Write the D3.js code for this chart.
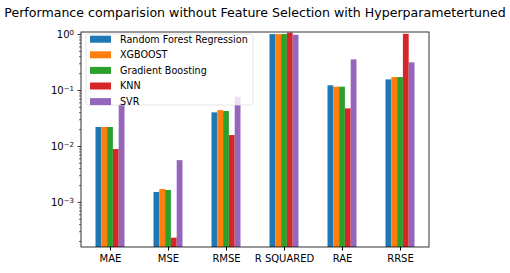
<!DOCTYPE html>
<html>
<head>
<meta charset="utf-8">
<script src="https://cdn.jsdelivr.net/npm/d3@7"></script>
<style>
  body { margin: 0; background: #fff; }
  text { font-family: "DejaVu Sans", sans-serif; fill: #000; }
</style>
</head>
<body>
<div id="chart"></div>
<script>
      var title = "Performance comparision without Feature Selection with Hyperparametertuned";

      var metrics = ["MAE", "MSE", "RMSE", "R SQUARED", "RAE", "RRSE"];
      var models = ["Random Forest Regression", "XGBOOST", "Gradient Boosting", "KNN", "SVR"];
      var colors = ["#1f77b4", "#ff7f0e", "#2ca02c", "#d62728", "#9467bd"];

      // one array per model, same order as metrics
      var rfValues  = [0.0223, 0.00154, 0.0407, 1.02, 0.124, 0.158];
      var xgbValues = [0.0223, 0.00174, 0.0447, 1.02, 0.117, 0.174];
      var gbValues  = [0.0223, 0.00167, 0.0430, 1.02, 0.117, 0.174];
      var knnValues = [0.0090, 0.000235, 0.0160, 1.08, 0.048, 1.03];
      var svrValues = [0.0567, 0.0057, 0.0775, 0.99, 0.36, 0.319];

      var yTicks = [-3, -2, -1, 0];

      var series = [rfValues, xgbValues, gbValues, knnValues, svrValues];

      var W = 510, H = 273;
      var margin = {top: 32, right: 81, bottom: 26, left: 81};
      var width = W - margin.left - margin.right,
          height = H - margin.top - margin.bottom;

      var svg = d3.select("#chart").append("svg")
                .attr("width", W)
                .attr("height", H);

      svg.append("text")
          .attr("x", margin.left + width / 2)
          .attr("y", 17)
          .attr("text-anchor", "middle")
          .style("font-size", "12.6px")
          .text(title);

      var canvas = svg.append("g")
                .attr("transform", "translate(" + margin.left + "," + margin.top + ")");

      ////// Define Scales /////////////////
      var xScale = d3.scaleLinear()
          .domain([-0.5, metrics.length - 0.5])
          .range([0, width]);
      var yScale = d3.scaleLog()
          .domain([1.6e-4, 1.11])
          .range([height, 0]);

      var barW = 0.1;

      // bars
      series.forEach(function(vals, i) {
          canvas.append("g")
              .selectAll("rect")
              .data(vals)
              .enter()
              .append("rect")
              .attr("x", function(d, j) { return xScale(j + (i - 2) * barW - barW / 2); })
              .attr("width", xScale(barW) - xScale(0))
              .attr("y", function(d) { return yScale(d); })
              .attr("height", function(d) { return height - yScale(d); })
              .attr("fill", colors[i]);
      });

      /////// Axes //////////////////////////////
      var xAxis = d3.axisBottom(xScale)
          .tickValues(d3.range(metrics.length))
          .tickFormat(function(d) { return metrics[d]; })
          .tickSize(3.5)
          .tickPadding(4.5);

      var gx = canvas.append("g")
          .attr("transform", "translate(0," + height + ")")
          .call(xAxis);
      gx.select(".domain").remove();
      gx.selectAll("text").style("font-size", "10px").attr("fill", "#000");

      // minor ticks
      var minor = [];
      for (var e = -4; e <= 0; e++) {
          for (var m = 2; m <= 9; m++) {
              var v = m * Math.pow(10, e);
              if (v >= yScale.domain()[0] && v <= yScale.domain()[1]) minor.push(v);
          }
      }
      canvas.append("g")
          .selectAll("line")
          .data(minor)
          .enter()
          .append("line")
          .attr("x1", -2).attr("x2", 0)
          .attr("y1", function(d) { return yScale(d); })
          .attr("y2", function(d) { return yScale(d); })
          .attr("stroke", "#000")
          .attr("stroke-width", 0.6);

      var gy = canvas.append("g");
      var yt = gy.selectAll("g")
          .data(yTicks)
          .enter()
          .append("g")
          .attr("transform", function(d) { return "translate(0," + yScale(Math.pow(10, d)) + ")"; });
      yt.append("line")
          .attr("x1", -3.5).attr("x2", 0)
          .attr("stroke", "#000")
          .attr("stroke-width", 0.8);
      var lbl = yt.append("text")
          .attr("x", -7)
          .attr("dy", "0.32em")
          .attr("text-anchor", "end")
          .style("font-size", "10px");
      lbl.append("tspan").text("10");
      lbl.append("tspan")
          .attr("dy", "-0.45em")
          .style("font-size", "7px")
          .text(function(d) { return d === 0 ? "0" : "\u2212" + Math.abs(d); });

      // frame
      canvas.append("rect")
          .attr("width", width)
          .attr("height", height)
          .attr("fill", "none")
          .attr("stroke", "#000")
          .attr("stroke-width", 0.8);

      // legend
      var legend = canvas.append("g")
          .attr("transform", "translate(5,0)");
      legend.append("rect")
          .attr("x", 0).attr("y", 2)
          .attr("width", 167).attr("height", 71)
          .attr("rx", 2)
          .attr("fill", "#fff")
          .attr("fill-opacity", 0.8)
          .attr("stroke", "#ddd")
          .attr("stroke-width", 0.8);
      var li = legend.selectAll(".li")
          .data(models)
          .enter()
          .append("g")
          .attr("transform", function(d, i) { return "translate(4," + (3.7 + i * 15.6) + ")"; });
      li.append("rect")
          .attr("width", 21).attr("height", 7)
          .attr("fill", function(d, i) { return colors[i]; });
      li.append("text")
          .attr("x", 30).attr("y", 3.5)
          .attr("dy", "0.35em")
          .style("font-size", "9.6px")
          .text(function(d) { return d; });
</script>
</body>
</html>
